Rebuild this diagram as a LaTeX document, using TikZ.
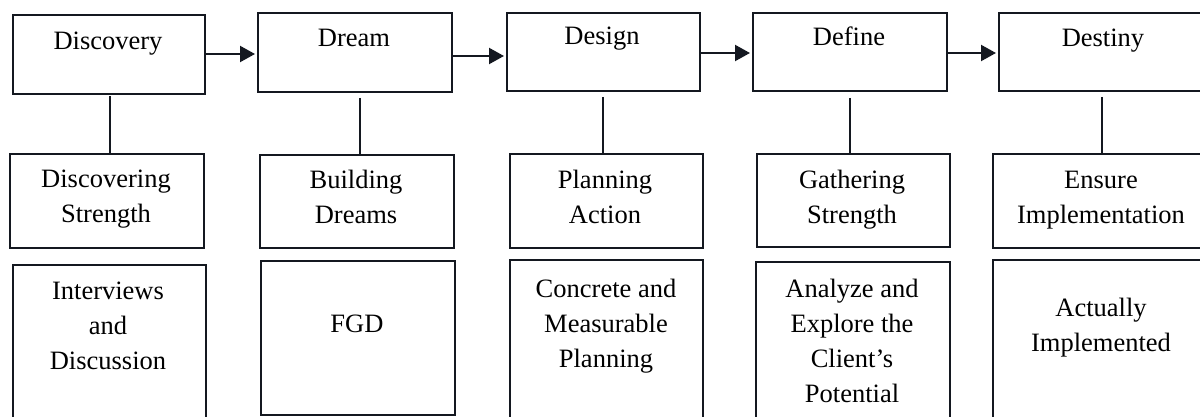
\documentclass[tikz,border=0pt]{standalone}
\usepackage{fontspec}
\setmainfont{Liberation Serif}
\usetikzlibrary{arrows.meta}
\definecolor{ink}{RGB}{20,24,32}
\begin{document}
\begin{tikzpicture}[x=1pt,y=-1pt,
  box/.style={draw=ink,line width=2pt,inner sep=0pt,anchor=north west},
  lbl/.style={font=\fontsize{26.5}{35}\selectfont,text=black,align=center,inner sep=0pt},
  link/.style={draw=ink,line width=1.5pt},
  arr/.style={draw=ink,line width=2.2pt,-{Triangle[length=15pt,width=16pt]},shorten >=2pt}]
\useasboundingbox (0,0) rectangle (1200,417);
\clip (0,0) rectangle (1200,417);
% top row
\node[box,minimum width=192pt,minimum height=79pt] (A1) at (12,14) {};
\node[box,minimum width=194pt,minimum height=79pt] (A2) at (257,12) {};
\node[box,minimum width=193pt,minimum height=78pt] (A3) at (506,12) {};
\node[box,minimum width=194pt,minimum height=78pt] (A4) at (752,12) {};
\node[box,minimum width=212pt,minimum height=78pt] (A5) at (998,12) {};
% middle row
\node[box,minimum width=194pt,minimum height=94pt] (B1) at (9,153) {};
\node[box,minimum width=194pt,minimum height=93pt] (B2) at (259,154) {};
\node[box,minimum width=193pt,minimum height=94pt] (B3) at (509,153) {};
\node[box,minimum width=193pt,minimum height=93pt] (B4) at (756,153) {};
\node[box,minimum width=218pt,minimum height=94pt] (B5) at (992,153) {};
% bottom row
\node[box,minimum width=193pt,minimum height=170pt] (C1) at (12,264) {};
\node[box,minimum width=194pt,minimum height=154pt] (C2) at (260,260) {};
\node[box,minimum width=193pt,minimum height=175pt] (C3) at (509,259) {};
\node[box,minimum width=194pt,minimum height=175pt] (C4) at (755,261) {};
\node[box,minimum width=218pt,minimum height=175pt] (C5) at (992,259) {};
% texts
\node[lbl,anchor=base] (tA1) at (108,50) {Discovery};
\node[lbl,anchor=base] (tA2) at (354,47) {Dream};
\node[lbl,anchor=base] (tA3) at (602,45) {Design};
\node[lbl,anchor=base] (tA4) at (849,46) {Define};
\node[lbl,anchor=base] (tA5) at (1103,47) {Destiny};
\node[lbl,anchor=north] (tB1) at (106,170) {Discovering\\Strength};
\node[lbl,anchor=north] (tB2) at (356,170) {Building\\Dreams};
\node[lbl,anchor=north] (tB3) at (605,170) {Planning\\Action};
\node[lbl,anchor=north] (tB4) at (852,170) {Gathering\\Strength};
\node[lbl,anchor=north] (tB5) at (1101,171) {Ensure\\Implementation};
\node[lbl,anchor=north] (tC1) at (108,282) {Interviews\\and\\Discussion};
\node[lbl,anchor=base] (tC2) at (357,332) {FGD};
\node[lbl,anchor=north] (tC3) at (606,279) {Concrete and\\Measurable\\Planning};
\node[lbl,anchor=north] (tC4) at (852,279) {Analyze and\\Explore the\\Client’s\\Potential};
\node[lbl,anchor=north] (tC5) at (1101,298) {Actually\\Implemented};
% arrows
\draw[arr] ([yshift=0.5pt]A1.east) -- ([yshift=0.5pt]A2.west |- A1.east);
\draw[arr] ([yshift=-3.5pt]A2.east) -- ([yshift=-3.5pt]A3.west |- A2.east);
\draw[arr] ([yshift=-1pt]A3.east) -- ([yshift=-1pt]A4.west |- A3.east);
\draw[arr] ([yshift=-1pt]A4.east) -- ([yshift=-1pt]A5.west |- A4.east);
% vertical links
\coordinate (v1) at (110,96);
\coordinate (v2) at (360,98);
\coordinate (v3) at (603,97);
\coordinate (v4) at (850,98);
\coordinate (v5) at (1102,97);
\draw[link] (v1) -- (v1 |- B1.north);
\draw[link] (v2) -- (v2 |- B2.north);
\draw[link] (v3) -- (v3 |- B3.north);
\draw[link] (v4) -- (v4 |- B4.north);
\draw[link] (v5) -- (v5 |- B5.north);
\end{tikzpicture}
\end{document}
